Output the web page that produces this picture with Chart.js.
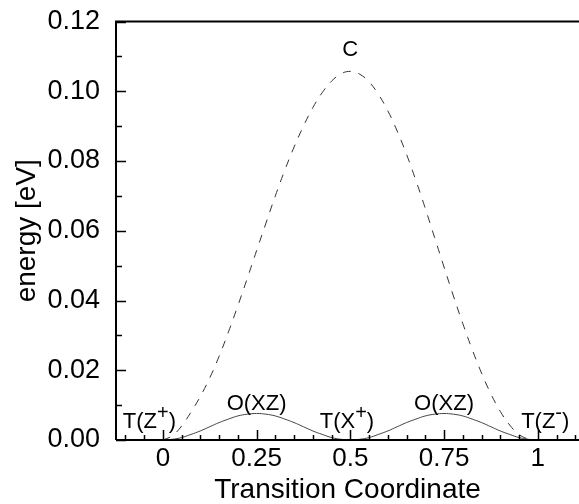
<!DOCTYPE html>
<html>
<head>
<meta charset="utf-8">
<script src="https://cdn.jsdelivr.net/npm/chart.js@4.4.0/dist/chart.umd.min.js"></script>
<style>
  html, body { margin: 0; padding: 0; background: #fff; overflow: hidden; }
  #wrap { width: 579px; height: 504px; }
</style>
</head>
<body>
<div id="wrap"><canvas id="energyChart"></canvas></div>
<script>
// transition coordinate samples
var coord = [0, 0.025, 0.05, 0.075, 0.1, 0.125, 0.15, 0.175, 0.2, 0.225, 0.25,
             0.275, 0.3, 0.325, 0.35, 0.375, 0.4, 0.425, 0.45, 0.475, 0.5,
             0.525, 0.55, 0.575, 0.6, 0.625, 0.65, 0.675, 0.7, 0.725, 0.75,
             0.775, 0.8, 0.825, 0.85, 0.875, 0.9, 0.925, 0.95, 0.975, 1];

// solid path through O(XZ)
var pathO = [0, 0.0002, 0.0007, 0.0016, 0.0026, 0.0038, 0.0050, 0.0060, 0.0069, 0.0074, 0.0076,
             0.0074, 0.0069, 0.0060, 0.0050, 0.0038, 0.0026, 0.0016, 0.0007, 0.0002, 0,
             0.0002, 0.0007, 0.0016, 0.0026, 0.0038, 0.0050, 0.0060, 0.0069, 0.0074, 0.0076,
             0.0074, 0.0069, 0.0060, 0.0050, 0.0038, 0.0026, 0.0016, 0.0007, 0.0002, 0];

// dashed path through C
var pathC = [0, 0.0012, 0.0040, 0.0080, 0.0125, 0.0178, 0.0240, 0.0310, 0.0385, 0.0463, 0.0543,
             0.0622, 0.0700, 0.0773, 0.0840, 0.0900, 0.0953, 0.0996, 0.1029, 0.1050, 0.1057,
             0.1049, 0.1027, 0.0991, 0.0944, 0.0886, 0.0819, 0.0744, 0.0664, 0.0580, 0.0496,
             0.0413, 0.0334, 0.0260, 0.0192, 0.0132, 0.0082, 0.0043, 0.0016, 0.0003, 0];

var xTicks = [0, 0.25, 0.5, 0.75, 1];
var yTicks = [0, 0.02, 0.04, 0.06, 0.08, 0.1, 0.12];

// point labels: [x, y, main text, superscript, tail]
var marks = [
    [0.5, 0.1100, 'C', '', ''],
    [0.25, 0.0087, 'O(XZ)', '', ''],
    [0.75, 0.0087, 'O(XZ)', '', ''],
    [-0.036, 0.0034, 'T(Z', '+', ')'],
    [0.491, 0.0034, 'T(X', '+', ')'],
    [1.02, 0.0034, 'T(Z', '-', ')']
];

var FONT = '"Liberation Sans", Arial, sans-serif';

function toXY(ys) {
    return coord.map(function(x, i) { return {x: x, y: ys[i]}; });
}

var frame = {
    id: 'frame',
    afterDraw: function(chart) {
        var ctx = chart.ctx, a = chart.chartArea;
        var xs = chart.scales.x, ys = chart.scales.y;
        ctx.save();
        ctx.strokeStyle = '#000';
        ctx.lineWidth = 2;
        ctx.beginPath();
        ctx.moveTo(a.left, a.bottom); ctx.lineTo(a.right, a.bottom);
        ctx.moveTo(a.left, a.bottom); ctx.lineTo(a.left, a.top);
        ctx.lineTo(a.right, a.top);
        ctx.stroke();

        // inward ticks
        ctx.lineWidth = 1.5;
        ctx.beginPath();
        for (var i = -2; i <= 22; i++) {
            var v = i * 0.05;
            if (v < xs.min || v > xs.max) continue;
            var px = Math.round(xs.getPixelForValue(v)) + 0.5;
            var len = (i % 5 === 0) ? 10 : 5;
            ctx.moveTo(px, a.bottom); ctx.lineTo(px, a.bottom - len);
        }
        for (var j = 0; j <= 12; j++) {
            var py = Math.round(ys.getPixelForValue(j * 0.01)) + 0.5;
            var l2 = (j % 2 === 0) ? 10 : 6;
            ctx.moveTo(a.left, py); ctx.lineTo(a.left + l2, py);
        }
        ctx.stroke();
        ctx.restore();
    },
    afterDatasetsDraw: function(chart) {
        var ctx = chart.ctx;
        var xs = chart.scales.x, ys = chart.scales.y;
        ctx.save();
        ctx.fillStyle = '#000';
        ctx.textBaseline = 'alphabetic';
        ctx.textAlign = 'left';
        marks.forEach(function(m) {
            var big = '22px ' + FONT, small = '20px ' + FONT;
            ctx.font = big;
            var w1 = ctx.measureText(m[2]).width, w3 = ctx.measureText(m[4]).width;
            ctx.font = small;
            var w2 = m[3] ? ctx.measureText(m[3]).width : 0;
            var total = w1 + w2 + w3;
            var x0 = xs.getPixelForValue(m[0]) - total / 2;
            var y0 = ys.getPixelForValue(m[1]);
            ctx.font = big;
            ctx.fillText(m[2], x0, y0);
            if (m[3]) {
                ctx.font = small;
                ctx.fillText(m[3], x0 + w1, y0 - 9);
            }
            ctx.font = big;
            ctx.fillText(m[4], x0 + w1 + w2, y0);
        });
        ctx.restore();
    }
};

new Chart(document.getElementById('energyChart'), {
    type: 'line',
    data: {
        datasets: [{
            label: 'O(XZ)',
            data: toXY(pathO),
            borderColor: '#444',
            borderWidth: 1,
            pointRadius: 0,
            tension: 0.4,
            fill: false
        }, {
            label: 'C',
            data: toXY(pathC),
            borderColor: '#333',
            borderWidth: 1,
            borderDash: [8, 8],
            pointRadius: 0,
            tension: 0.4,
            fill: false
        }]
    },
    options: {
        responsive: true,
        maintainAspectRatio: false,
        animation: false,
        layout: { padding: { top: 19, right: 0, left: 0, bottom: 0 } },
        plugins: { legend: { display: false }, tooltip: { enabled: false } },
        scales: {
            x: {
                type: 'linear',
                min: -0.125,
                max: 1.11,
                grid: { display: false },
                border: { display: false },
                afterBuildTicks: function(s) { s.ticks = xTicks.map(function(v) { return {value: v}; }); },
                afterFit: function(s) { s.height = 64; },
                ticks: {
                    color: '#000',
                    padding: -2,
                    maxRotation: 0,
                    font: { family: FONT, size: 26, lineHeight: 1 },
                    callback: function(v) { return String(v); }
                },
                title: {
                    display: true,
                    text: 'Transition Coordinate',
                    color: '#000',
                    font: { family: FONT, size: 28 },
                    padding: { top: 0, bottom: -3 }
                }
            },
            y: {
                min: 0,
                max: 0.12,
                grid: { display: false },
                border: { display: false },
                afterBuildTicks: function(s) { s.ticks = yTicks.map(function(v) { return {value: v}; }); },
                afterFit: function(s) { s.width = 116; },
                ticks: {
                    color: '#000',
                    padding: 8,
                    font: { family: FONT, size: 27, lineHeight: 1 },
                    callback: function(v) { return v.toFixed(2); }
                },
                title: {
                    display: true,
                    text: 'energy [eV]',
                    color: '#000',
                    font: { family: FONT, size: 28 },
                    padding: { top: 10, bottom: 0 }
                }
            }
        }
    },
    plugins: [frame]
});
</script>
</body>
</html>
